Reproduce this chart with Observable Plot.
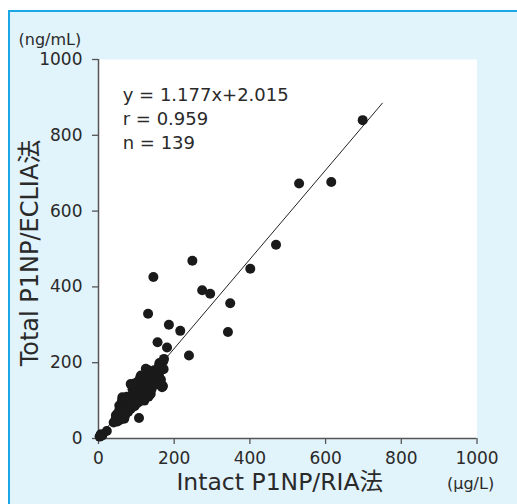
<!DOCTYPE html>
<html>
<head>
<meta charset="utf-8">
<script src="https://cdn.jsdelivr.net/npm/d3@7"></script>
<script src="https://cdn.jsdelivr.net/npm/@observablehq/plot@0.6"></script>
<style>
  html, body { margin: 0; padding: 0; background: #ffffff; width: 517px; height: 504px; overflow: hidden; }
  #bg { position: absolute; left: 8px; top: 10px; width: 520px; height: 500px;
        background: #e1f3fb; border-left: 2px solid #1ba6e6; border-top: 2px solid #1ba6e6; }
  #chart { position: absolute; left: 0; top: 0; }
</style>
</head>
<body>
<div id="bg"></div>
<div id="chart"></div>
<script>
// Intact P1NP (RIA, µg/L) vs Total P1NP (ECLIA, ng/mL)
const riaX = [
  698,530,615,469,401,248,145,274,295,348,342,131,186,216,156,181,239,161,171,172,130,170,107,
  6,22,3,10,
  46,50,52,55,55,58,60,62,55,58,63,65,68,70,72,75,68,62,50,48,65,78,80,82,85,88,75,70,66,74,57,68,85,
  85,88,90,92,95,98,100,102,105,108,110,112,106,100,95,104,110,112,115,118,120,121,122,125,125,128,130,130,132,
  125,128,135,138,138,140,142,143,145,147,148,150,152,155,158,160,160,162,165,165,168,169,
  112,115,118,98,94,86,84,120,135,140,145,150,155,160,165,173,78,90,95,105,115,135,45,40
];
const eclY = [
  840,673,677,511,448,469,426,391,382,357,281,329,300,284,254,240,219,199,204,183,181,138,54,
  11,20,5,8,
  61,45,55,48,87,62,70,52,75,85,109,80,95,60,68,75,105,100,65,58,58,88,80,95,100,90,110,100,72,84,78,52,78,
  144,140,130,120,115,110,100,95,108,125,120,130,140,135,145,150,160,166,165,150,140,100,135,125,184,118,115,131,110,
  155,170,175,118,160,150,155,158,145,180,160,165,150,145,160,193,165,145,155,140,135,140,
  100,110,105,90,100,110,105,115,115,130,140,170,175,180,190,210,70,95,85,95,125,140,50,42
];
const points = riaX.map((x, i) => ({x, y: eclY[i]}));

const slope = 1.177, intercept = 2.015;
const fitX = [0, 750];
const fitLine = fitX.map(x => ({x, y: slope * x + intercept}));

const statLines = ["y = 1.177x+2.015", "r = 0.959", "n = 139"];
const statY = [906, 842, 779];

const xTicks = [0, 200, 400, 600, 800, 1000];
const yTicks = [0, 200, 400, 600, 800, 1000];
const xTitle = "Intact P1NP/RIA法";
const yTitle = "Total P1NP/ECLIA法";
const xUnit = "(μg/L)";
const yUnit = "(ng/mL)";

const FONT = "'DejaVu Sans', 'Noto Sans CJK JP', sans-serif";
const AX = "#555555";
const TXT = "#2a2a2a";

const chart = Plot.plot({
  width: 517,
  height: 504,
  marginLeft: 98,
  marginRight: 40.5,
  marginTop: 59,
  marginBottom: 66,
  style: { background: "transparent", fontFamily: FONT, color: TXT },
  x: { domain: [0, 1000] },
  y: { domain: [0, 1000] },
  marks: [
    Plot.frame({ fill: "white", stroke: null }),
    Plot.axisX({ ticks: xTicks, tickFormat: d => String(d), tickSize: 6, tickPadding: 7, stroke: AX, fill: TXT, fontSize: 17, label: null, strokeWidth: 1.3 }),
    Plot.axisY({ ticks: yTicks, tickFormat: d => String(d), tickSize: 6, tickPadding: 10, stroke: AX, fill: TXT, fontSize: 17, label: null, strokeWidth: 1.3 }),
    Plot.ruleY([0], { stroke: AX, strokeWidth: 1.5, x1: 0, x2: 1000 }),
    Plot.ruleX([0], { stroke: AX, strokeWidth: 1.5, y1: 0, y2: 1000 }),
    Plot.line(fitLine, { x: "x", y: "y", stroke: "#222", strokeWidth: 1 }),
    Plot.dot(points, { x: "x", y: "y", r: 5, fill: "#1a1a1a", stroke: null }),
    Plot.text(statLines, { x: () => 64, y: (d, i) => statY[i], text: d => d, textAnchor: "start", fontSize: 18, fill: TXT }),
    Plot.text([xTitle], { frameAnchor: "bottom", textAnchor: "middle", lineAnchor: "middle", dx: -8, dy: 44, fontSize: 23.5, fill: TXT }),
    Plot.text([yTitle], { frameAnchor: "left", textAnchor: "middle", lineAnchor: "middle", dx: -68, dy: 4, rotate: -90, fontSize: 24, fill: TXT }),
    Plot.text([yUnit], { frameAnchor: "top-left", lineAnchor: "middle", dx: -80, dy: -20, textAnchor: "start", fontSize: 16, fill: TXT }),
    Plot.text([xUnit], { frameAnchor: "bottom-right", lineAnchor: "middle", dx: -30, dy: 45, textAnchor: "start", fontSize: 16, fill: TXT })
  ]
});
document.getElementById("chart").appendChild(chart);
</script>
</body>
</html>
